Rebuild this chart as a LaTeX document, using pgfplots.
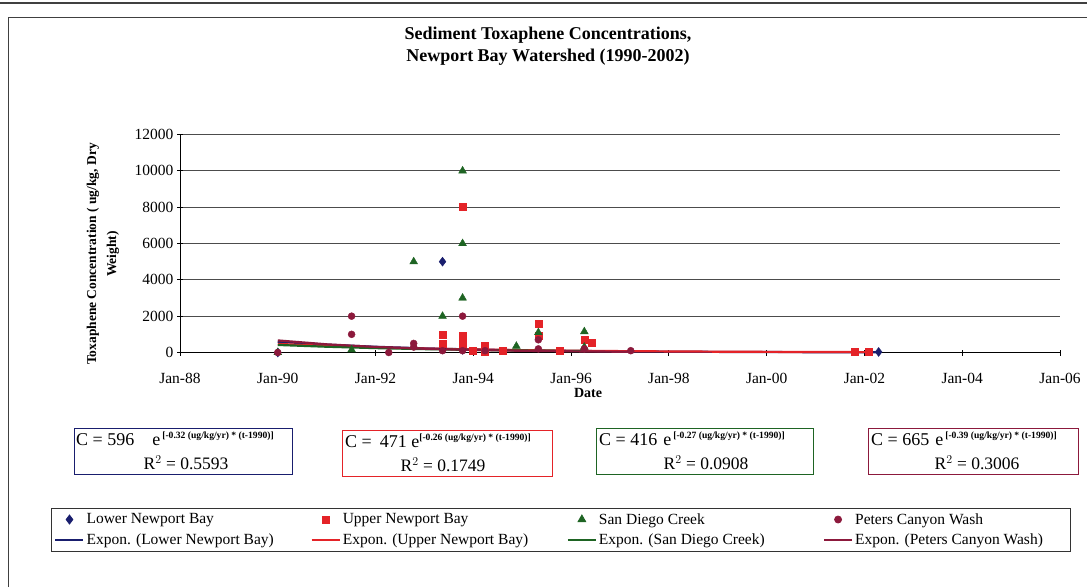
\documentclass[border=0pt]{standalone}
\usepackage{fontspec}
\setmainfont{Liberation Serif}
\usepackage{pgfplots}
\pgfplotsset{compat=1.18}
\definecolor{lnb}{RGB}{25,30,110}
\definecolor{unb}{RGB}{228,35,40}
\definecolor{sdc}{RGB}{30,100,35}
\definecolor{pcw}{RGB}{140,25,60}
\begin{document}
\begin{tikzpicture}[x=1pt,y=1pt]
\useasboundingbox (0,0) rectangle (1087,587);
\fill[white] (0,0) rectangle (1087,587);
\draw[black!75, line width=1.5] (0,584) -- (1087,584);
\draw[black!75, line width=1] (8,0) -- (8,569) -- (1087,569);
\node[font=\fontsize{18}{22}\selectfont\bfseries, align=center] at (548,541) {Sediment Toxaphene Concentrations,\\Newport Bay Watershed (1990-2002)};
\node[font=\fontsize{13.5}{20}\selectfont\bfseries, align=center, rotate=90] at (103,333) {Toxaphene Concentration ( ug/kg, Dry\\Weight)};
\node[font=\fontsize{14}{16}\selectfont\bfseries] at (588,194) {Date};
\begin{axis}[
  at={(180pt,234.5pt)}, anchor=south west, scale only axis,
  width=880pt, height=218pt,
  xmin=1988, xmax=2006, ymin=0, ymax=12000,
  axis lines=left, axis line style={-, black, line width=0.8pt},
  xtick={1988,1990,...,2006},
  xticklabels={Jan-88,Jan-90,Jan-92,Jan-94,Jan-96,Jan-98,Jan-00,Jan-02,Jan-04,Jan-06},
  ytick={0,2000,...,12000},
  scaled y ticks=false,
  ymajorgrids, grid style={black!70, line width=0.8pt},
  tick align=center, major tick length=6pt, tick style={black, line width=0.8pt},
  tick label style={font=\fontsize{15.5}{17}\selectfont},
  xticklabel style={yshift=-14pt},
  /pgf/number format/assume math mode=true, /pgf/number format/1000 sep={},
  clip=false,
  legend columns=4,
  legend cell align=left,
  legend image code/.code={\draw[mark repeat=2,mark phase=2,#1] plot coordinates {(0pt,0pt)(14pt,0pt)(28pt,0pt)};},
  legend style={at={(-0.1466,-0.7133)}, anchor=north west, draw=black!80, line width=0.8pt,
    font=\fontsize{15.5}{17}\selectfont, row sep=4pt, inner sep=3pt,
    /tikz/every even column/.append style={column sep=0pt}},
]
\addplot[only marks, mark=diamond*, mark size=4.5pt, color=lnb] coordinates {
(1990.0,0) (1993.37,5000) (1993.37,250) (1993.78,150) (2002.29,30)};
\addlegendentry{\makebox[222pt][l]{Lower Newport Bay}}
\addplot[only marks, mark=square*, mark size=3.5pt, color=unb] coordinates {
(1993.37,1000) (1993.37,500) (1993.78,8000) (1993.78,900) (1993.78,500) (1993.98,100)
(1994.24,400) (1994.24,50) (1994.61,100) (1995.33,1600) (1995.33,900) (1995.76,100)
(1996.27,700) (1996.43,550) (2001.80,30) (2002.08,30)};
\addlegendentry{\makebox[222pt][l]{Upper Newport Bay}}
\addplot[only marks, mark=triangle*, mark size=4.5pt, color=sdc] coordinates {
(1990.0,0) (1991.51,150) (1992.78,5000) (1993.37,2000) (1993.78,10000) (1993.78,6000)
(1993.78,3000) (1994.88,350) (1995.33,1100) (1996.27,1150) (1996.27,300)};
\addlegendentry{\makebox[222pt][l]{San Diego Creek}}
\addplot[only marks, mark=*, mark size=3.5pt, color=pcw] coordinates {
(1990.0,0) (1991.51,2000) (1991.51,1000) (1992.27,0) (1992.78,500) (1992.78,300)
(1993.37,100) (1993.78,2000) (1993.78,100) (1994.24,100) (1995.33,700) (1995.33,200)
(1996.27,200) (1997.22,100)};
\addlegendentry{\makebox[210pt][l]{Peters Canyon Wash}}
\addplot[no marks, color=lnb, line width=2.2pt] coordinates {
(1990,596) (1991,432.8) (1992,314.3) (1993,228.2) (1994,165.7) (1995,120.3) (1996,87.4)
(1997,63.4) (1998,46.1) (1999,33.4) (2000,24.3) (2001,17.6) (2002,12.8) (2002.29,11.7)};
\addlegendentry{\makebox[222pt][l]{Expon. (Lower Newport Bay)}}
\addplot[no marks, color=unb, line width=2.2pt] coordinates {
(1990,471) (1991,363.2) (1992,280.0) (1993,215.9) (1994,166.5) (1995,128.4) (1996,99.0)
(1997,76.3) (1998,58.9) (1999,45.4) (2000,35.0) (2001,27.0) (2002,20.8) (2002.08,20.4)};
\addlegendentry{\makebox[222pt][l]{Expon. (Upper Newport Bay)}}
\addplot[no marks, color=sdc, line width=2.2pt] coordinates {
(1990,416) (1991,317.6) (1992,242.4) (1993,185.1) (1994,141.3) (1995,107.8) (1996,82.3) (1996.27,76.5)};
\addlegendentry{\makebox[222pt][l]{Expon. (San Diego Creek)}}
\addplot[no marks, color=pcw, line width=2.2pt] coordinates {
(1990,665) (1991,450.3) (1992,304.9) (1993,206.4) (1994,139.8) (1995,94.6) (1996,64.1) (1997,43.4) (1997.22,39.8)};
\addlegendentry{\makebox[210pt][l]{Expon. (Peters Canyon Wash)}}
\end{axis}
% equation boxes
\draw[lnb, line width=1pt] (74,159) rectangle (292,113);
\draw[unb, line width=1pt] (342,157) rectangle (552,111);
\draw[sdc, line width=1pt] (596,159) rectangle (813,113);
\draw[pcw, line width=1pt] (868,159) rectangle (1078,113);
\tikzset{eq/.style={font=\fontsize{18}{20}\selectfont, anchor=west, inner sep=0pt},
 r2/.style={font=\fontsize{17.5}{19}\selectfont, inner sep=0pt}}
\newcommand{\ex}[1]{\raisebox{7pt}{\fontsize{9.6}{10}\selectfont\bfseries #1}}
\node[eq] at (76,148) {C = 596\hspace{18pt}e\hspace{2pt}\ex{[-0.32 (ug/kg/yr) * (t-1990)]}};
\node[r2] at (186,124) {R$^{2}$ = 0.5593};
\node[eq] at (345,146) {C =\hspace{8pt}471 e\ex{[-0.26 (ug/kg/yr) * (t-1990)]}};
\node[r2] at (443,122) {R$^{2}$ = 0.1749};
\node[eq] at (599,148) {C = 416\hspace{6pt}e\hspace{2pt}\ex{[-0.27 (ug/kg/yr) * (t-1990)]}};
\node[r2] at (706,124) {R$^{2}$ = 0.0908};
\node[eq] at (871,148) {C = 665\hspace{6pt}e\hspace{2pt}\ex{[-0.39 (ug/kg/yr) * (t-1990)]}};
\node[r2] at (977,124) {R$^{2}$ = 0.3006};
\end{tikzpicture}
\end{document}
